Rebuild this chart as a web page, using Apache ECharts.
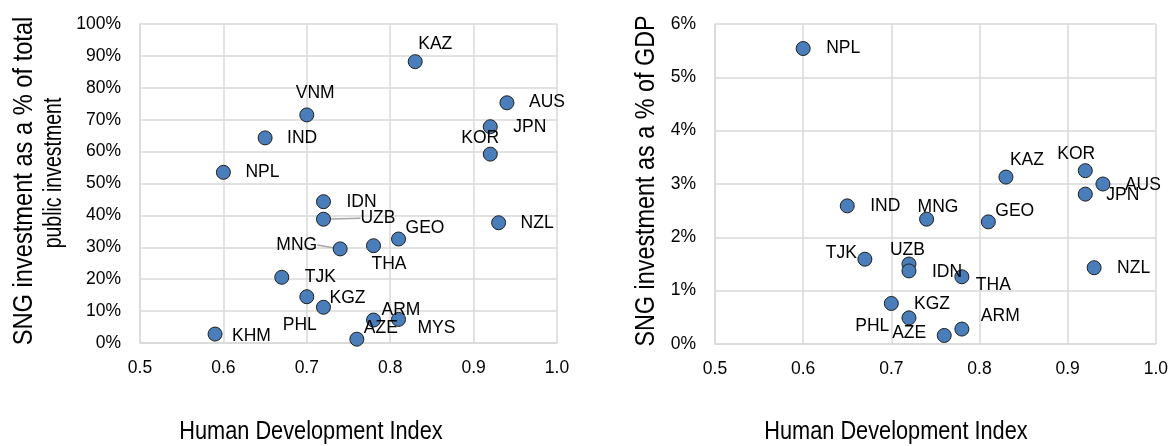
<!DOCTYPE html>
<html>
<head>
<meta charset="utf-8">
<script src="https://cdn.jsdelivr.net/npm/echarts@6/dist/echarts.min.js"></script>
<style>
  html, body { margin: 0; padding: 0; background: #ffffff; }
  #chart { width: 1171px; height: 446px; }
</style>
</head>
<body>
<div id="chart"></div>
<script>
// SNG investment as a share of total public investment (left panel)
const countriesTotal = ['KAZ','VNM','AUS','JPN','KOR','IND','NPL','IDN','UZB','GEO','NZL','MNG','THA','TJK','PHL','KGZ','ARM','MYS','AZE','KHM'];
const hdiTotal       = [0.83, 0.70, 0.94, 0.92, 0.92, 0.65, 0.60, 0.72, 0.72, 0.81, 0.93, 0.74, 0.78, 0.67, 0.70, 0.72, 0.78, 0.81, 0.76, 0.59];
const shareOfPublicInvestment = [88.2, 71.5, 75.3, 67.8, 59.2, 64.3, 53.5, 44.3, 38.8, 32.6, 37.7, 29.5, 30.5, 20.6, 14.5, 11.2, 7.2, 7.4, 1.2, 2.8];

// SNG investment as a share of GDP (right panel)
const countriesGdp = ['NPL','KAZ','KOR','AUS','JPN','IND','MNG','GEO','TJK','UZB','IDN','THA','NZL','PHL','KGZ','AZE','ARM'];
const hdiGdp       = [0.60, 0.83, 0.92, 0.94, 0.92, 0.65, 0.74, 0.81, 0.67, 0.72, 0.72, 0.78, 0.93, 0.70, 0.72, 0.76, 0.78];
const shareOfGdp   = [5.54, 3.13, 3.25, 3.00, 2.81, 2.59, 2.34, 2.29, 1.59, 1.50, 1.37, 1.26, 1.43, 0.76, 0.49, 0.16, 0.28];

// Axis ranges / ticks
const hdiMin = 0.5, hdiMax = 1.0, hdiStep = 0.1;
const totalMax = 100, totalStep = 10;
const gdpMax = 6, gdpStep = 1;

// Titles
const xTitle = 'Human Development Index';
const yTitleTotal = ['SNG investment as a % of total', 'public investment'];
const yTitleGdp = 'SNG investment as a % of GDP';

// Label placement next to each marker: [align, dx, dy]
const placeTotal = {
  KAZ: ['left', 3, -17], VNM: ['left', -11, -22], AUS: ['left', 22, -1], JPN: ['left', 23, 0],
  KOR: ['left', -29, -16], IND: ['left', 22, 0], NPL: ['left', 22, 0], IDN: ['left', 23, 0],
  UZB: ['left', 37, -1], GEO: ['left', 7, -11], NZL: ['left', 22, 0], MNG: ['right', -23, -4],
  THA: ['left', -2, 18], TJK: ['left', 23, 0], PHL: ['left', -24, 28], KGZ: ['left', 6, -9],
  ARM: ['left', 8, -10], MYS: ['left', 19, 9], AZE: ['left', 7, -11], KHM: ['left', 17, 2]
};
const placeGdp = {
  NPL: ['left', 23, 0], KAZ: ['left', 4, -17], KOR: ['left', -28, -16], AUS: ['left', 22, 1],
  JPN: ['left', 21, 1], IND: ['left', 23, 0], MNG: ['left', -9, -12], GEO: ['left', 7, -11],
  TJK: ['right', -8, -6], UZB: ['left', -19, -14], IDN: ['left', 23, 1], THA: ['left', 14, 8],
  NZL: ['left', 23, 0], PHL: ['right', -2, 23], KGZ: ['left', 5, -14], AZE: ['right', -18, -2],
  ARM: ['left', 19, -13]
};
const leadersTotal = ['UZB', 'MNG'];

// Prefer a condensed sans; fall back to a regular one at a smaller size
function fontAvailable(name) {
  const ctx = document.createElement('canvas').getContext('2d');
  const sample = 'Human Development Index 0123%';
  ctx.font = '40px monospace';
  const a = ctx.measureText(sample).width;
  ctx.font = '40px "' + name + '", monospace';
  const b = ctx.measureText(sample).width;
  return Math.abs(a - b) > 0.5;
}
const NARROW = fontAvailable('Liberation Sans Narrow');
const FONT = NARROW ? '"Liberation Sans Narrow", "Liberation Sans", Arial, sans-serif'
                    : '"Liberation Sans", Arial, sans-serif';
const SMALL_SIZE = NARROW ? 20 : 17.5;

function buildData(codes, xs, ys, place, leaders) {
  return codes.map(function (code, i) {
    const p = place[code];
    const item = {
      name: code,
      value: [xs[i], ys[i]],
      label: { align: p[0], offset: [p[1], p[2]] }
    };
    if (leaders.indexOf(code) >= 0) {
      item.labelLine = { show: true };
    }
    return item;
  });
}

const gridColor = '#D9D9D9';
const tickText = { color: '#000', fontFamily: FONT, fontSize: SMALL_SIZE };

function xAxisFor(gridIndex) {
  return {
    type: 'value', gridIndex: gridIndex,
    min: hdiMin, max: hdiMax, interval: hdiStep,
    axisLine: { show: true, lineStyle: { color: gridColor, width: 1.5 } },
    axisTick: { show: false },
    splitLine: { show: true, lineStyle: { color: gridColor, width: 1.5 } },
    axisLabel: Object.assign({ margin: 16, formatter: function (v) { return v.toFixed(1); } }, tickText)
  };
}
function yAxisFor(gridIndex, max, step) {
  return {
    type: 'value', gridIndex: gridIndex,
    min: 0, max: max, interval: step,
    axisLine: { show: true, lineStyle: { color: gridColor, width: 1.5 } },
    axisTick: { show: false },
    splitLine: { show: true, lineStyle: { color: gridColor, width: 1.5 } },
    axisLabel: Object.assign({ margin: 19, formatter: function (v) { return v + '%'; } }, tickText)
  };
}

const seriesLabel = {
  show: true, formatter: '{b}', position: 'inside', verticalAlign: 'middle',
  color: '#000', fontFamily: FONT, fontSize: SMALL_SIZE
};
const markerStyle = { color: '#4A7EBB', borderColor: '#1E1E1E', borderWidth: 1, opacity: 1 };

// Axis titles; squeeze factor keeps the condensed look with a regular face
function titleText(text, x, y, size, rotate, squeeze) {
  return {
    type: 'text', x: x, y: y, rotation: rotate ? Math.PI / 2 : 0,
    scaleX: NARROW ? 1 : squeeze,
    style: {
      text: text, fill: '#000', font: size + 'px ' + FONT,
      align: 'center', verticalAlign: 'middle'
    }
  };
}

const chart = echarts.init(document.getElementById('chart'), null, { renderer: 'canvas' });
chart.setOption({
  animation: false,
  backgroundColor: '#ffffff',
  grid: [
    { left: 140, top: 24, width: 417, height: 319, containLabel: false },
    { left: 715, top: 24, width: 442, height: 320, containLabel: false }
  ],
  xAxis: [xAxisFor(0), xAxisFor(1)],
  yAxis: [yAxisFor(0, totalMax, totalStep), yAxisFor(1, gdpMax, gdpStep)],
  series: [
    {
      type: 'scatter', xAxisIndex: 0, yAxisIndex: 0,
      symbol: 'circle', symbolSize: 14,
      itemStyle: markerStyle,
      label: seriesLabel,
      labelLine: { show: false, length2: 0, lineStyle: { color: '#A6A6A6', width: 1.5 } },
      data: buildData(countriesTotal, hdiTotal, shareOfPublicInvestment, placeTotal, leadersTotal)
    },
    {
      type: 'scatter', xAxisIndex: 1, yAxisIndex: 1,
      symbol: 'circle', symbolSize: 14,
      itemStyle: markerStyle,
      label: seriesLabel,
      data: buildData(countriesGdp, hdiGdp, shareOfGdp, placeGdp, [])
    }
  ],
  graphic: [
    titleText(xTitle, 311, 432, 26.5, false, 0.82),
    titleText(xTitle, 896, 432, 26.5, false, 0.82),
    titleText(yTitleTotal[0], 24, 181, 28.5, true, 0.83),
    titleText(yTitleTotal[1], 54, 173, 26, true, 0.75),
    titleText(yTitleGdp, 646, 181, 28.5, true, 0.82)
  ]
});
</script>
</body>
</html>
